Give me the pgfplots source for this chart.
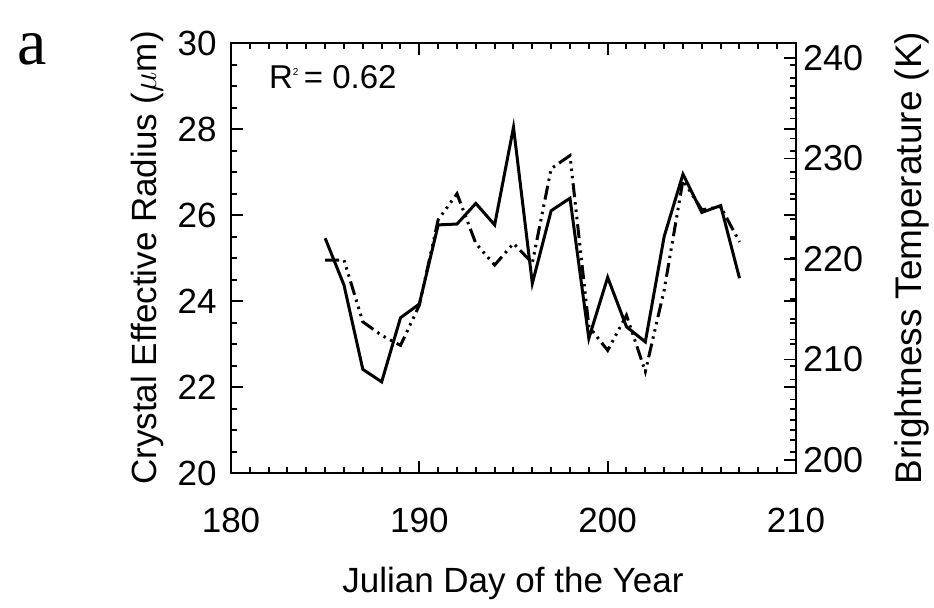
\documentclass[border=0pt]{standalone}
\usepackage{pgfplots}
\pgfplotsset{compat=1.18}
\usepackage{fontspec}
\setmainfont{Liberation Sans}
\newfontfamily\seriffont{Liberation Serif}
\begin{document}
\begin{tikzpicture}
\useasboundingbox (-115.5pt,-67pt) rectangle (351.5pt,236.5pt);
\begin{axis}[
  at={(0,0)}, anchor=south west,
  scale only axis, width=282.5pt, height=215pt,
  xmin=180, xmax=210, ymin=20, ymax=30,
  xtick={180,190,200,210}, minor x tick num=9,
  ytick={20,22,...,30}, minor y tick num=3,
  tick align=inside, xtick pos=both, ytick pos=both,
  major tick length=6pt, minor tick length=3pt,
  axis line style={line width=1pt},
  every tick/.style={line width=1pt, black},
  ticklabel style={font=\fontsize{17.5}{20}\selectfont},
  xticklabel style={yshift=-14pt},
  yticklabel style={xshift=-3.7pt},
  /pgf/number format/assume math mode=true,
  xlabel={Julian Day of the Year},
  ylabel={Crystal Effective Radius ($\mu$m)},
  label style={font=\fontsize{17.5}{20}\selectfont},
  xlabel style={at={(axis description cs:0.499,-0.2558)}, anchor=center},
  ylabel style={at={(axis description cs:-0.1487,0.5)}, anchor=center},
]
\addplot[black, line width=1.5pt, sharp plot] coordinates {
(185,25.46) (186,24.37) (187,22.41) (188,22.12) (189,23.61) (190,23.93)
(191,25.77) (192,25.79) (193,26.27) (194,25.77) (195,28.04) (196,24.41)
(197,26.10) (198,26.39) (199,23.13) (200,24.55) (201,23.40) (202,23.05)
(203,25.50) (204,26.95) (205,26.06) (206,26.22) (207,24.53)
};
\node[anchor=base west, font=\fontsize{16.5}{18}\selectfont, inner sep=0pt] at (axis cs:182.0,28.95)
  {R\raisebox{0.7ex}{\fontsize{5}{5}\selectfont 2}\,= 0.62};
\end{axis}
\begin{axis}[
  at={(0,0)}, anchor=south west,
  scale only axis, width=282.5pt, height=215pt,
  xmin=180, xmax=210, ymin=198.7, ymax=241.5,
  hide x axis, axis y line*=right,
  ytick={200,210,...,240}, minor y tick num=4,
  tick align=inside,
  major tick length=6pt, minor tick length=3pt,
  axis line style={line width=1pt},
  every tick/.style={line width=0.8pt, black},
  ticklabel style={font=\fontsize{18}{20}\selectfont},
  /pgf/number format/assume math mode=true,
  ylabel={Brightness Temperature (K)},
  label style={font=\fontsize{18.5}{20}\selectfont},
  ylabel style={at={(axis description cs:1.2053,0.5)}, anchor=center, rotate=0},
]
\addplot[black, line width=1.5pt, sharp plot,
  dash pattern=on 7pt off 2.5pt on 1.2pt off 2.5pt on 1.2pt off 2.5pt on 1.2pt off 2.5pt] coordinates {
(185,219.9) (186,219.9) (187,213.75) (188,212.4) (189,211.4) (190,215.4)
(191,223.9) (192,226.5) (193,221.55) (194,219.4) (195,221.55) (196,219.6)
(197,229.0) (198,230.3) (199,213.3) (200,210.9) (201,214.4) (202,208.8)
(203,216.9) (204,227.85) (205,224.9) (206,225.2) (207,221.7)
};
\end{axis}
\node[font=\seriffont\fontsize{33}{33}\selectfont] at (-99.5pt,212pt) {a};
\end{tikzpicture}
\end{document}
